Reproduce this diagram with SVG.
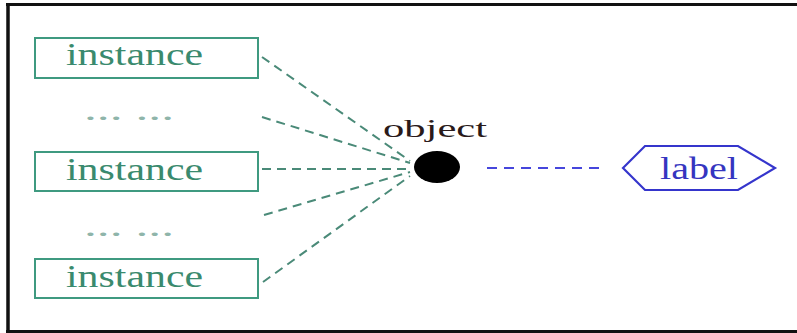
<svg xmlns="http://www.w3.org/2000/svg" width="797" height="333" viewBox="0 0 797 333">
  <style>
    .inst rect { fill: #ffffff; stroke: #3f9a80; stroke-width: 2; }
    .inst text { font-family: "Liberation Serif", serif; font-size: 32px; fill: #3a8a6e; }
    .dots { font-family: "Liberation Serif", serif; font-size: 30px; fill: #8fb5aa; }
    .links line { stroke: #4a8a78; stroke-width: 2; stroke-dasharray: 9 6; }
    .links line.blue { stroke: #4646dc; stroke-width: 2.2; stroke-dasharray: 10 7; }
    .serif { font-family: "Liberation Serif", serif; }
  </style>

  <!-- frame -->
  <rect x="0" y="0" width="797" height="333" fill="#ffffff"/>
  <line x1="6" y1="4.5" x2="797" y2="4.5" stroke="#111" stroke-width="3"/>
  <line x1="8" y1="3" x2="8" y2="333" stroke="#111" stroke-width="3.5"/>
  <line x1="6" y1="331.5" x2="797" y2="331.5" stroke="#111" stroke-width="3"/>

  <!-- connectors -->
  <g id="connectors" class="links">
    <line x1="262" y1="57" x2="410" y2="161"/>
    <line x1="262" y1="117" x2="410" y2="163"/>
    <line x1="262" y1="169" x2="410" y2="169"/>
    <line x1="264" y1="215" x2="410" y2="172"/>
    <line x1="263" y1="282" x2="410" y2="176"/>
    <line class="blue" x1="487" y1="168" x2="605" y2="168"/>
  </g>

  <!-- instances -->
  <g id="instance1" class="inst">
    <rect x="35" y="38" width="223" height="40"/>
    <text x="66" y="65" textLength="137" lengthAdjust="spacingAndGlyphs">instance</text>
  </g>
  <g id="instance2" class="inst">
    <rect x="35" y="152" width="223" height="39"/>
    <text x="66" y="180" textLength="137" lengthAdjust="spacingAndGlyphs">instance</text>
  </g>
  <g id="instance3" class="inst">
    <rect x="35" y="259" width="223" height="39"/>
    <text x="66" y="287" textLength="137" lengthAdjust="spacingAndGlyphs">instance</text>
  </g>

  <text class="dots" x="84" y="120" textLength="90" lengthAdjust="spacingAndGlyphs">... ...</text>
  <text class="dots" x="84" y="236" textLength="90" lengthAdjust="spacingAndGlyphs">... ...</text>

  <!-- object node -->
  <g id="object">
    <ellipse cx="437" cy="167" rx="23" ry="16" fill="#000"/>
    <text class="serif" x="383" y="137" font-size="26" fill="#2a1a1a" textLength="104" lengthAdjust="spacingAndGlyphs">object</text>
  </g>

  <!-- label node -->
  <g id="label">
    <polygon points="623,168 645,146 738,146 775,168 738,190 645,190" fill="#fff" stroke="#3535cc" stroke-width="2.2"/>
    <text class="serif" x="660" y="179" font-size="31" fill="#3535c0" textLength="78" lengthAdjust="spacingAndGlyphs">label</text>
  </g>
</svg>
